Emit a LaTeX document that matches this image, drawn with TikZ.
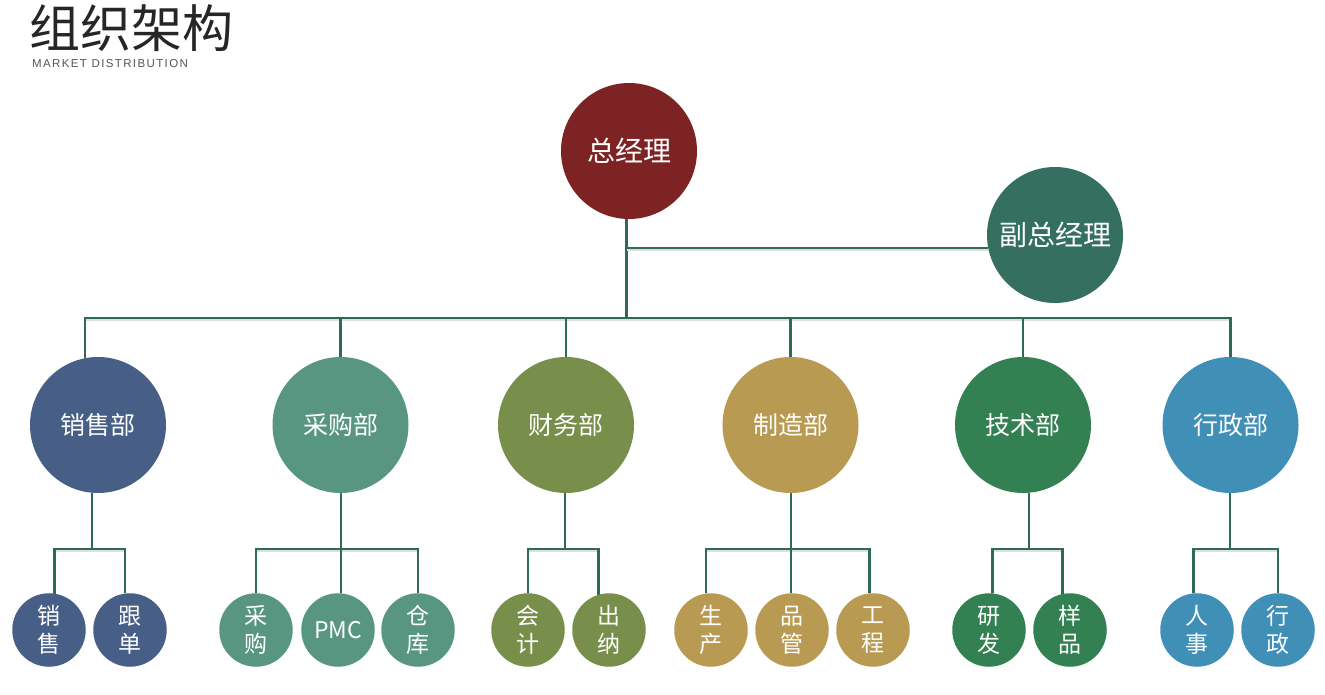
\documentclass[tikz,border=0pt]{standalone}
\usepackage{fontspec}
\setmainfont{Noto Sans CJK SC}
\newfontfamily\latinsf[LetterSpace=12]{Liberation Sans}
\usetikzlibrary{backgrounds}
\definecolor{linec}{HTML}{2F6A58}
\definecolor{cgm}{HTML}{7E2323}
\definecolor{cdgm}{HTML}{346F5F}
\definecolor{csales}{HTML}{475F87}
\definecolor{cpur}{HTML}{589682}
\definecolor{cfin}{HTML}{788E4B}
\definecolor{cman}{HTML}{B99A52}
\definecolor{ctech}{HTML}{338053}
\definecolor{cadm}{HTML}{408FB6}
\definecolor{titlec}{HTML}{262626}
\definecolor{subc}{HTML}{555555}
\begin{document}
\begin{tikzpicture}[x=1pt,y=-1pt,
  link/.style={draw=linec, line width=2.6pt,
    preaction={draw=black!13, line width=2.6pt, transform canvas={yshift=-1.6pt}}},
  top/.style={circle, inner sep=0pt, minimum size=136pt, text=white, font=\fontsize{28}{32}\selectfont},
  dept/.style={circle, inner sep=0pt, minimum size=136pt, text=white, font=\fontsize{25}{30}\selectfont},
  sub/.style={circle, inner sep=0pt, minimum size=73.5pt, text=white, align=center, font=\fontsize{23}{28}\selectfont}]
\useasboundingbox (0,0) rectangle (1325,694);

% title
\node[anchor=west, inner sep=0pt, text=titlec, font=\fontsize{51}{54}\selectfont] (title) at (29,28.5) {组织架构};
\node[anchor=west, inner sep=0pt, text=subc, font=\latinsf\fontsize{11.5}{12}\selectfont] (subtitle) at (32,64) {MARKET DISTRIBUTION};

% top level
\node[top, fill=cgm] (gm) at (629,151) {总经理};
\node[top, fill=cdgm] (dgm) at (1055,235) {副总经理};

% departments
\node[dept, fill=csales] (sales) at (98,425) {销售部};
\node[dept, fill=cpur] (pur) at (340.5,425) {采购部};
\node[dept, fill=cfin] (fin) at (566,425) {财务部};
\node[dept, fill=cman] (man) at (790.5,425) {制造部};
\node[dept, fill=ctech] (tech) at (1023,425) {技术部};
\node[dept, fill=cadm] (adm) at (1230.5,425) {行政部};

% sub units
\node[sub, fill=csales] (s1) at (49,630) {销\\售};
\node[sub, fill=csales] (s2) at (130,630) {跟\\单};
\node[sub, fill=cpur] (p1) at (256,630) {采\\购};
\node[sub, fill=cpur] (p2) at (338,630) {PMC};
\node[sub, fill=cpur] (p3) at (418,630) {仓\\库};
\node[sub, fill=cfin] (f1) at (528,630) {会\\计};
\node[sub, fill=cfin] (f2) at (609,630) {出\\纳};
\node[sub, fill=cman] (m1) at (711,630) {生\\产};
\node[sub, fill=cman] (m2) at (792,630) {品\\管};
\node[sub, fill=cman] (m3) at (873,630) {工\\程};
\node[sub, fill=ctech] (t1) at (989,630) {研\\发};
\node[sub, fill=ctech] (t2) at (1070,630) {样\\品};
\node[sub, fill=cadm] (a1) at (1197,630) {人\\事};
\node[sub, fill=cadm] (a2) at (1278,630) {行\\政};

% bus coordinates
\coordinate (busL) at (85,318);
\coordinate (busR) at (1231,318);
\coordinate (hS) at (92,549);
\coordinate (hP) at (341,549);
\coordinate (hF) at (565,549);
\coordinate (hM) at (791,549);
\coordinate (hT) at (1029,549);
\coordinate (hA) at (1230,549);

\begin{pgfonlayer}{background}
% top connectors
\draw[link] (gm.-92) -- (gm.-92 |- busL);
\draw[link] (dgm.191) -- (dgm.191 -| gm.-92);
\draw[link, line cap=rect] (busL) -- (busR);
\draw[link] (sales.101) -- (sales.101 |- busL);
\draw[link] (pur.north) -- (pur.north |- busL);
\draw[link] (fin.north) -- (fin.north |- busL);
\draw[link] (man.north) -- (man.north |- busL);
\draw[link] (tech.north) -- (tech.north |- busL);
\draw[link] (adm.north) -- (adm.north |- busL);

% sub connectors
\draw[link] (hS |- sales.south) -- (hS);
\draw[link] (s1.81) |- (hS) -| (s2.98);
\draw[link] (hP |- pur.south) -- (hP);
\draw[link] (p1.north) |- (hP) -| (p3.north);
\draw[link] (hP) -- (hP |- p2.north);
\draw[link] (hF |- fin.south) -- (hF);
\draw[link] (f1.north) |- (hF) -| (f2.107);
\draw[link] (hM |- man.south) -- (hM);
\draw[link] (m1.98) |- (hM) -| (m3.95);
\draw[link] (hM) -- (hM |- m2.north);
\draw[link] (hT |- tech.south) -- (hT);
\draw[link] (t1.85) |- (hT) -| (t2.102);
\draw[link] (hA |- adm.south) -- (hA);
\draw[link] (a1.95) |- (hA) -| (a2.north);
\end{pgfonlayer}
\end{tikzpicture}
\end{document}
